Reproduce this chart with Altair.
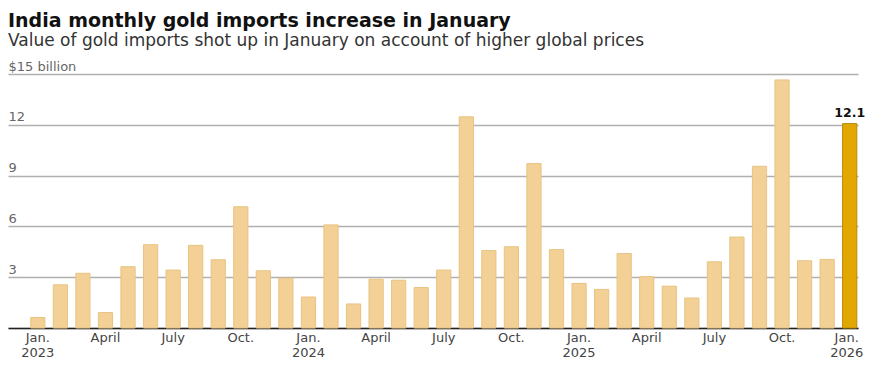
import altair as alt
import pandas as pd

months = [
    "2023-01", "2023-02", "2023-03", "2023-04", "2023-05", "2023-06",
    "2023-07", "2023-08", "2023-09", "2023-10", "2023-11", "2023-12",
    "2024-01", "2024-02", "2024-03", "2024-04", "2024-05", "2024-06",
    "2024-07", "2024-08", "2024-09", "2024-10", "2024-11", "2024-12",
    "2025-01", "2025-02", "2025-03", "2025-04", "2025-05", "2025-06",
    "2025-07", "2025-08", "2025-09", "2025-10", "2025-11", "2025-12",
    "2026-01",
]
imports_bn = [
    0.62, 2.55, 3.23, 0.91, 3.62, 4.92, 3.42, 4.88, 4.03, 7.16, 3.38, 2.94,
    1.83, 6.09, 1.42, 2.88, 2.82, 2.39, 3.42, 12.47, 4.57, 4.80, 9.71, 4.63,
    2.63, 2.28, 4.40, 3.03, 2.47, 1.77, 3.91, 5.37, 9.55, 14.65, 3.97, 4.05,
    12.07,
]
highlight_month = "2026-01"
highlight_label = "12.1"

tick_months = ["2023-01", "2023-04", "2023-07", "2023-10",
               "2024-01", "2024-04", "2024-07", "2024-10",
               "2025-01", "2025-04", "2025-07", "2025-10",
               "2026-01"]
tick_lines = [["Jan.", "2023"], ["April"], ["July"], ["Oct."],
              ["Jan.", "2024"], ["April"], ["July"], ["Oct."],
              ["Jan.", "2025"], ["April"], ["July"], ["Oct."],
              ["Jan.", "2026"]]
y_ticks = [0, 3, 6, 9, 12, 15]

df = pd.DataFrame({"month": months, "value": imports_bn})
df["hl"] = df["month"] == highlight_month
df["label"] = [highlight_label if m == highlight_month else "" for m in months]

expr = "''"
for m, lines in reversed(list(zip(tick_months, tick_lines))):
    arr = "[" + ", ".join("'" + s + "'" for s in lines) + "]"
    expr = f"datum.value == '{m}' ? {arr} : ({expr})"

FONT = "DejaVu Sans"

x = alt.X(
    "month:N",
    sort=months,
    title=None,
    scale=alt.Scale(paddingInner=0.37, paddingOuter=0.53, align=0.95),
    axis=alt.Axis(
        labelExpr=expr,
        labelAngle=0,
        ticks=False,
        grid=False,
        domain=True,
        domainColor="#222222",
        domainWidth=1.5,
        labelFont=FONT,
        labelFontSize=13,
        labelColor="#444444",
        labelPadding=3,
        labelLineHeight=15.5,
        labelOverlap=False,
        labelOffset={"condition": {"test": f"datum.value == '{highlight_month}'", "value": -3}, "value": 0},
    ),
)

y = alt.Y(
    "value:Q",
    title=None,
    scale=alt.Scale(domain=[0, 15], nice=False),
    axis=alt.Axis(
        values=y_ticks,
        labelExpr="datum.value == 15 ? '$15 billion' : (datum.value == 0 ? '' : datum.label)",
        ticks=False,
        tickSize=0,
        domain=False,
        grid=True,
        gridColor="#b0b0b0",
        gridWidth=1.3,
        labelAlign="left",
        labelBaseline="alphabetic",
        labelPadding=0,
        labelOffset=-4,
        labelFont=FONT,
        labelFontSize=13,
        labelColor="#666666",
    ),
)

bars = alt.Chart(df).mark_bar(strokeWidth=1).encode(
    x=x,
    y=y,
    color=alt.condition("datum.hl", alt.value("#E2A700"), alt.value("#F3D095")),
    stroke=alt.condition("datum.hl", alt.value("#B98B00"), alt.value("#E8C382")),
)

text = alt.Chart(df).transform_filter("datum.label != ''").mark_text(
    font=FONT, fontSize=12.5, fontWeight="bold", color="#111111",
    baseline="alphabetic", dy=-7,
).encode(x=alt.X("month:N", sort=months), y="value:Q", text="label:N")

chart = alt.layer(bars, text).properties(
    width=850,
    height=254,
    autosize=alt.AutoSizeParams(type="none"),
    padding={"left": 0, "top": 66, "right": 8, "bottom": 31},
    title=alt.TitleParams(
        text="India monthly gold imports increase in January",
        subtitle="Value of gold imports shot up in January on account of higher global prices",
        anchor="start",
        font=FONT,
        fontSize=19,
        fontWeight="bold",
        color="#111111",
        subtitleFont=FONT,
        subtitleFontSize=17,
        subtitleColor="#333333",
        subtitlePadding=2,
        offset=11,
    ),
).configure(background="white").configure_view(stroke=None)

chart.save("out.html", embed_options={"renderer": "svg", "actions": False})
